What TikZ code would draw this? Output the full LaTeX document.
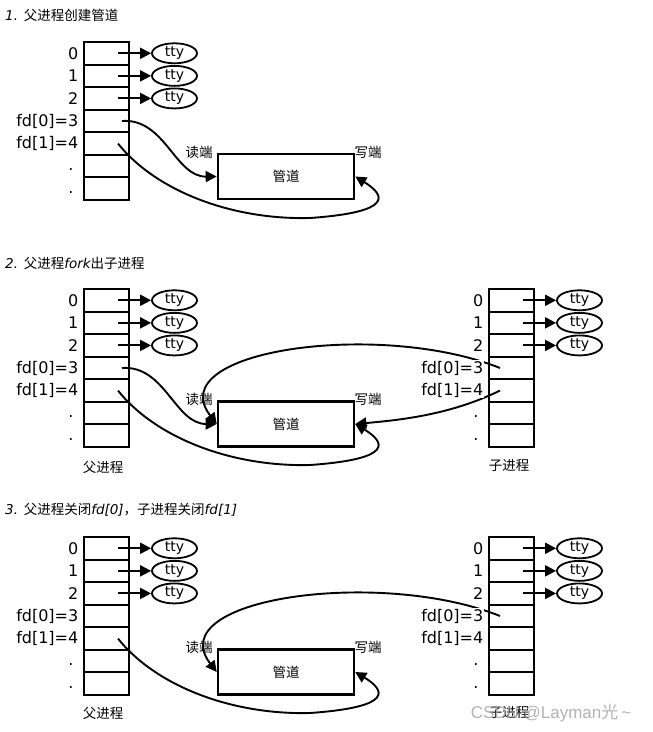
\documentclass[tikz,border=0pt]{standalone}
\usepackage{fontspec}
\setmainfont{DejaVu Sans}
\newfontfamily\cjk{Noto Sans CJK SC}
\newfontfamily\wmfont{Liberation Sans}
\usetikzlibrary{shapes.geometric,arrows.meta}

\tikzset{
 cell/.style={draw, line width=2pt, minimum width=45pt, minimum height=22.57pt, inner sep=0pt, outer sep=0pt},
 tty/.style={draw, ellipse, line width=1.8pt, minimum width=45pt, minimum height=20pt, inner sep=0pt, font=\fontsize{14}{16}\selectfont},
 arr/.style={line width=2pt, -{Triangle[length=11pt,width=11pt]}},
 conn/.style={line width=1.9pt, -{Triangle[length=11pt,width=11pt]}},
 lbl/.style={anchor=east, inner sep=0.5pt, fill=white, font=\fontsize{16}{18}\selectfont},
 dotlbl/.style={anchor=base, inner sep=0pt, font=\fontsize{16}{18}\selectfont},
 pipe/.style={draw, line width=2.6pt, minimum width=136pt, minimum height=45pt, inner sep=0pt, font=\cjk\fontsize{13.5}{15}\selectfont},
 cn/.style={font=\cjk\fontsize{13.5}{15}\selectfont, inner sep=0pt},
 title/.style={anchor=west, inner sep=0pt, font=\fontsize{13.5}{15}\selectfont},
}

\newcommand\fdtable[2]{%
  \foreach \r in {0,...,6}{\node[cell] (#1\r) at (#2,{42+22.57*\r+11.285}) {};}
  \foreach \r in {0,1,2}{%
    \node[tty] (#1t\r) at ({#2+68},{42+22.57*\r+11.285}) {tty};
    \draw[arr] ([xshift=11.5pt]#1\r.center) -- (#1t\r.west);
  }%
}
\newcommand\fdlabels[1]{%
  \foreach \r/\lab in {0/0,1/1,2/2,3/{fd[0]=3},4/{fd[1]=4}}{%
    \node[lbl] (#1l\r) at ([xshift=-5pt]#1\r.west) {\lab};}
  \foreach \r in {5,6}{%
    \node[dotlbl] (#1d\r) at ([xshift=-13pt,yshift=-4.5pt]#1\r.west) {.};}
}

\begin{document}
\begin{tikzpicture}[x=1pt,y=-1pt]
\useasboundingbox (0,0) rectangle (653,732);

% ---------- section 1
\begin{scope}
 \node[title] (ti1) at (5,15) {{\itshape 1.} {\cjk 父进程创建管道}};
 \fdtable{a}{106.5}
 \node[pipe] (pa) at (286,176.5) {管道};
 \node[cn] (ra) at (199,152) {读端};
 \node[cn] (wa) at (368,152) {写端};
 \draw[conn] ([xshift=15.5pt]a3.center) .. controls (165,118) and (175,177) .. (pa.west);
 \draw[conn] ([xshift=11.5pt]a4.center) .. controls (155,190) and (230,220) .. (310,218) .. controls (395,212) and (385,195) .. (pa.east);
 \fdlabels{a}
\end{scope}

% ---------- section 2
\begin{scope}[yshift=-247pt]
 \node[title] (ti2) at (5,16) {{\itshape 2.} {\cjk 父进程}{\itshape fork}{\cjk 出子进程}};
 \fdtable{b}{106.5}
 \fdtable{c}{511.5}
 \node[pipe] (pb) at (286,177) {管道};
 \node[cn] (rb) at (199,152) {读端};
 \node[cn] (wb) at (368,152) {写端};
 \node[cn] (fb) at (103,220) {父进程};
 \node[cn] (zb) at (509,218) {子进程};
 \draw[conn] ([xshift=15.5pt]b3.center) .. controls (165,118) and (175,177) .. (pb.west);
 \draw[conn] ([xshift=11.5pt]b4.center) .. controls (155,190) and (230,220) .. (310,218) .. controls (395,212) and (385,195) .. (pb.east);
 \draw[conn] ([xshift=-11.5pt]c3.center) .. controls (380,73) and (160,103) .. (pb.west);
 \draw[conn] ([xshift=-11.5pt]c4.center) .. controls (450,168) and (400,173) .. (pb.east);
 \fdlabels{b}
 \fdlabels{c}
\end{scope}

% ---------- section 3
\begin{scope}[yshift=-495pt]
 \node[title] (ti3) at (5,15) {{\itshape 3.} {\cjk 父进程关闭}{\itshape fd[0]}{\cjk ，子进程关闭}{\itshape fd[1]}};
 \fdtable{d}{106.5}
 \fdtable{e}{511.5}
 \node[pipe] (pc) at (286,177) {管道};
 \node[cn] (rc) at (199,152) {读端};
 \node[cn] (wc) at (368,152) {写端};
 \node[cn] (fc) at (103,218) {父进程};
 \node[cn] (zc) at (509,217) {子进程};
 \draw[conn] ([xshift=11.5pt]d4.center) .. controls (155,190) and (230,220) .. (310,218) .. controls (395,212) and (385,195) .. (pc.east);
 \draw[conn] ([xshift=-11.5pt]e3.center) .. controls (380,73) and (160,103) .. (pc.west);
 \fdlabels{d}
 \fdlabels{e}
\end{scope}

\node[font=\wmfont\fontsize{17}{19}\selectfont, text=gray!70, inner sep=0pt, opacity=0.85] (wm) at (551,713) {CSDN @Layman{\cjk 光}\,\textasciitilde};
\end{tikzpicture}
\end{document}
